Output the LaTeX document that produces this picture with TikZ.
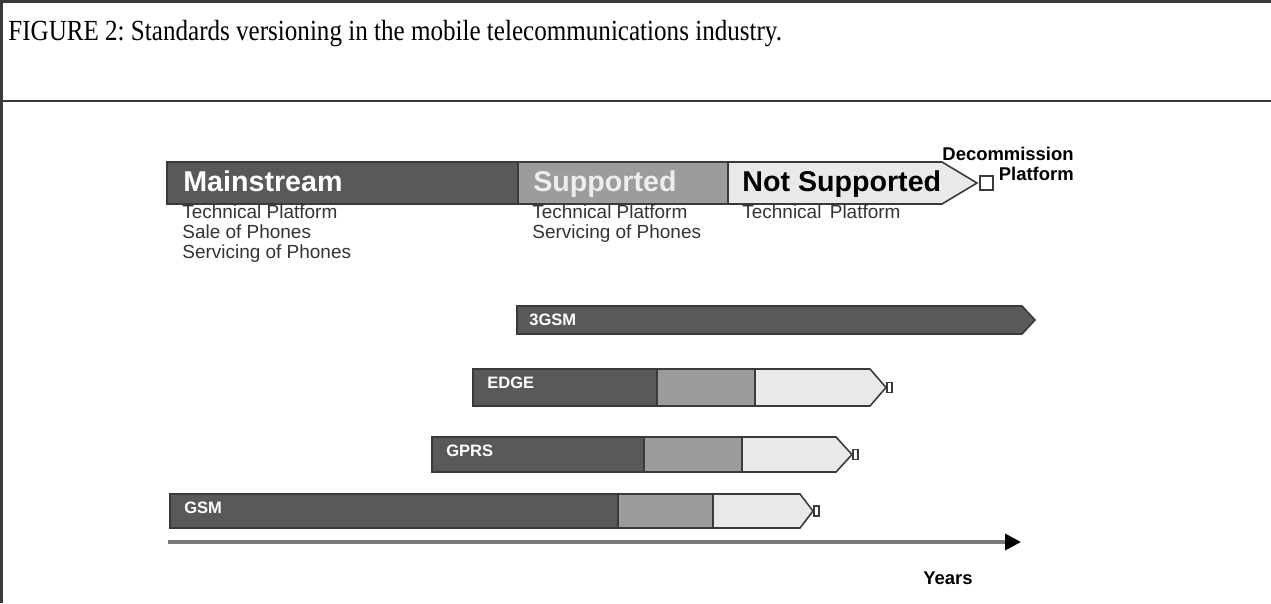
\documentclass[tikz,border=0pt]{standalone}
\usepackage{fontspec}
\setmainfont{Liberation Serif}
\setsansfont{Liberation Sans}
\newfontfamily\capfont[FakeStretch=0.86]{Liberation Serif}
\usepackage{tikz}
\usetikzlibrary{arrows.meta,positioning,shapes}
\frenchspacing

\definecolor{mainGray}{HTML}{595959}
\definecolor{suppGray}{HTML}{9C9C9C}
\definecolor{notGray}{HTML}{E9E9E9}
\definecolor{lineGray}{HTML}{3A3A3A}
\definecolor{axisGray}{HTML}{7A7A7A}

\tikzset{
  frame/.style={draw=lineGray, line width=1.6pt},
  segline/.style={draw=lineGray, line width=0.9pt},
  barlabel/.style={anchor=base west, inner sep=0pt, text=white, font=\sffamily\bfseries\fontsize{9.4}{10}\selectfont},
  headlabel/.style={anchor=base west, inner sep=0pt, font=\sffamily\bfseries\fontsize{16.3}{17}\selectfont},
  notes/.style={anchor=north west, inner sep=0pt, align=left, text=black!80, font=\sffamily\fontsize{10.8}{11.4}\selectfont},
  small/.style={inner sep=0pt, font=\sffamily\bfseries\fontsize{10.5}{11}\selectfont}
}

% name, ytop, ybot, x mainstream, x supported, x not supported, x end, x tip, label
\newcommand{\verbar}[9]{%
  \fill[mainGray] (#4,#2) rectangle (#5,#3);
  \fill[suppGray] (#5,#2) rectangle (#6,#3);
  \fill[notGray] (#6,#2) -- (#7,#2) -- (#8,{(#2+#3)/2}) -- (#7,#3) -- (#6,#3) -- cycle;
  \draw[segline] (#4,#2) -- (#7,#2) -- (#8,{(#2+#3)/2}) -- (#7,#3) -- (#4,#3) -- cycle;
  \draw[segline] (#5,#2) -- (#5,#3);
  \draw[segline] (#6,#2) -- (#6,#3);
  \draw[draw=lineGray, line width=0.6pt] (#8+1,{(#2+#3)/2-5}) rectangle (#8+6,{(#2+#3)/2+5});
  \node[barlabel] (#1) at (#4+14,#2+19) {#9};
}

\begin{document}
\begin{tikzpicture}[x=0.02cm, y=-0.02cm]
  \useasboundingbox (0,0) rectangle (1271,603);

  % frame and caption
  \draw[frame] (0,1.5) -- (1271,1.5);
  \draw[frame] (0,101) -- (1271,101);
  \draw[frame] (1.2,0) -- (1.2,603);
  \node[anchor=base west, inner sep=0pt, font=\capfont\fontsize{16.6}{18}\selectfont] (caption) at (8,40) {FIGURE 2: Standards versioning in the mobile telecommunications industry.};

  % legend bar
  \fill[mainGray] (167,162) rectangle (518,204);
  \fill[suppGray] (518,162) rectangle (728,204);
  \fill[notGray] (728,162) -- (942,162) -- (977,183) -- (942,204) -- (728,204) -- cycle;
  \draw[segline] (167,162) -- (942,162) -- (977,183) -- (942,204) -- (167,204) -- cycle;
  \draw[segline] (518,162) -- (518,204);
  \draw[segline] (728,162) -- (728,204);
  \draw[draw=lineGray, line width=0.8pt] (980,176) rectangle (993,190);

  \node[headlabel, text=white] (mainstream) at (183,191) {Mainstream};
  \node[headlabel, text=white!93!black] (supported) at (533,191) {Supported};
  \node[headlabel, text=black] (notsupported) at (742,191) {Not Supported};

  \node[small, anchor=north east, align=right] (decom) at (1074,147) {Decommission\\Platform};

  \node[notes] (mainnotes) at (182,204) {Technical Platform\\Sale of Phones\\Servicing of Phones};
  \node[notes] (suppnotes) at (532,204) {Technical Platform\\Servicing of Phones};
  \node[notes] (notnotes) at (742,204) {Technical\, Platform};

  % 3GSM
  \fill[mainGray] (517,306) -- (1022,306) -- (1035,320) -- (1022,334) -- (517,334) -- cycle;
  \draw[segline] (517,306) -- (1022,306) -- (1035,320) -- (1022,334) -- (517,334) -- cycle;
  \node[barlabel] (threegsm) at (529,325) {3GSM};

  % EDGE, GPRS, GSM
  \verbar{edge}{369}{406}{473}{657}{755}{870}{886}{EDGE}
  \verbar{gprs}{437}{472}{432}{644}{742}{836}{852}{GPRS}
  \verbar{gsm}{494}{528}{170}{618}{713}{800}{813}{GSM}

  % time axis
  \coordinate (axisstart) at (168,542);
  \coordinate (axisend) at (1021,542);
  \draw[axisGray, line width=2pt, -{Triangle[length=9pt, width=9pt, black]}] (axisstart) -- (axisend);
  \node[small] (years) at (948,578) {Years};
\end{tikzpicture}
\end{document}
